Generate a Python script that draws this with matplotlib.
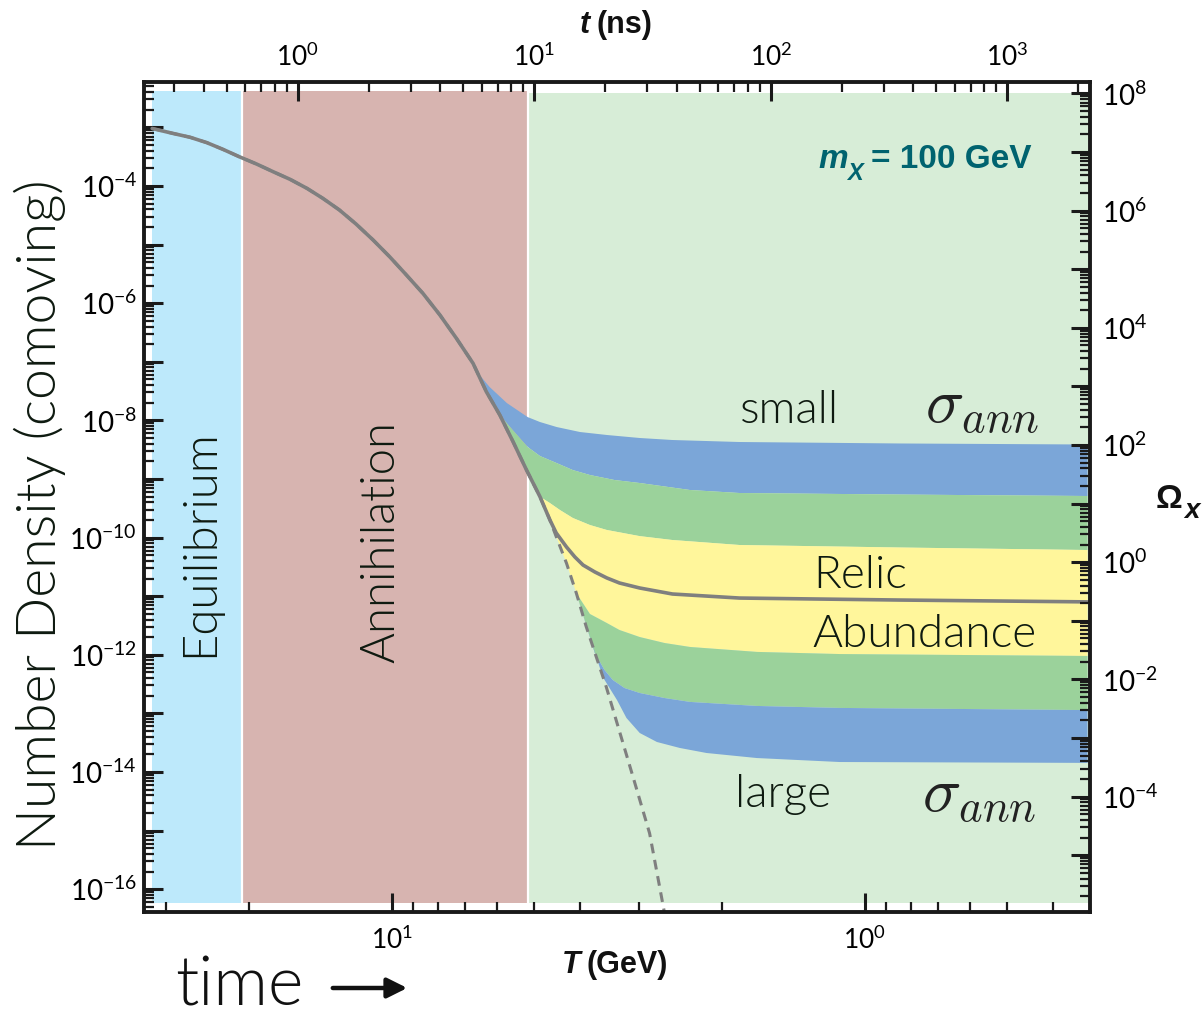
import numpy as np
import matplotlib
matplotlib.use("Agg")
import matplotlib.pyplot as plt
from matplotlib import ticker

W, H, DPI = 1202, 1016, 100

# ---------------- data ----------------
# equilibrium track: temperature (GeV) vs comoving number density
T_eq = [32.1, 29.0, 26.7, 24.6, 22.7, 21.0, 19.3, 17.8, 16.4, 15.1,
        14.0, 12.9, 11.9, 10.95, 10.1, 9.31, 8.59, 7.91, 7.30, 6.73,
        6.31, 5.91, 5.54, 5.19, 4.86, 4.63, 4.49, 4.27, 4.07, 3.88,
        3.52, 3.09, 2.85, 2.65]
n_eq = [9.6e-4, 7.9e-4, 6.8e-4, 5.5e-4, 4.2e-4, 3.16e-4, 2.37e-4, 1.75e-4, 1.30e-4, 9.1e-5,
        6.2e-5, 3.9e-5, 2.25e-5, 1.20e-5, 6.2e-6, 3.03e-6, 1.47e-6, 6.3e-7, 2.52e-7, 9.4e-8,
        3.09e-8, 1.24e-8, 4.33e-9, 1.43e-9, 4.99e-10, 2.0e-10, 1.04e-10, 3.64e-11, 1.12e-11, 3.02e-12,
        2.85e-13, 8.3e-15, 9.0e-16, 3.9e-17]

# freeze-out tail of the reference relic curve (leaves the track after T = 4.63)
relic_start = 25
T_relic_tail = [4.49, 4.27, 4.10, 3.94, 3.72, 3.51, 3.30, 2.99, 2.55, 1.84, 0.843, 0.338]
n_relic_tail = [1.20e-10, 6.9e-11, 4.67e-11, 3.4e-11, 2.59e-11, 2.05e-11, 1.68e-11,
                1.38e-11, 1.09e-11, 9.3e-12, 8.6e-12, 8.0e-12]

# band boundaries (from small to large annihilation cross section):
# index on the equilibrium track where each leaves it, then its own tail
B1_start = 19
B1_T = [6.52, 6.21, 5.71, 5.16, 4.86, 4.48, 4.00, 3.51, 2.99, 2.55, 1.84, 0.843, 0.338]
B1_n = [5.95e-8, 3.72e-8, 1.98e-8, 1.14e-8, 9.39e-9, 7.71e-9, 6.34e-9, 5.64e-9, 5.01e-9,
        4.63e-9, 4.28e-9, 4.04e-9, 3.88e-9]
B2_start = 21
B2_T = [5.55, 5.16, 4.86, 4.48, 4.14, 3.81, 3.38, 2.99, 2.34, 1.84, 0.843, 0.338]
B2_n = [6.85e-9, 3.52e-9, 2.47e-9, 1.87e-9, 1.42e-9, 1.17e-9, 9.61e-10, 8.55e-10,
        6.49e-10, 5.77e-10, 5.43e-10, 5.13e-10]
B3_start = 24
B3_T = [4.63, 4.41, 4.14, 3.81, 3.51, 2.99, 2.55, 1.84, 0.843, 0.338]
B3_n = [3.89e-10, 2.96e-10, 2.16e-10, 1.64e-10, 1.35e-10, 1.06e-10, 9.1e-11, 7.48e-11,
        6.78e-11, 6.14e-11]
B4_start = 28
B4_T = [3.81, 3.51, 3.30, 2.99, 2.65, 2.34, 1.69, 1.13, 0.338]
B4_n = [4.97e-12, 3.49e-12, 2.65e-12, 2.01e-12, 1.59e-12, 1.36e-12, 1.12e-12, 1.03e-12, 9.55e-13]
B5_start = 28
B5_T = [3.72, 3.55, 3.41, 3.22, 2.99, 2.65, 2.34, 1.69, 1.13, 0.338]
B5_n = [1.07e-12, 5.51e-13, 3.72e-13, 2.71e-13, 2.23e-13, 1.83e-13, 1.57e-13, 1.34e-13,
        1.24e-13, 1.14e-13]
B6_start = 28
B6_T = [3.58, 3.34, 3.19, 2.99, 2.75, 2.46, 2.16, 1.69, 1.13, 0.338]
B6_n = [4.18e-13, 1.69e-13, 8.36e-14, 4.63e-14, 3.25e-14, 2.57e-14, 2.11e-14, 1.73e-14,
        1.48e-14, 1.43e-14]

# epochs (temperature boundaries, GeV)
T_start, T_decouple, T_freeze, T_end = 32.1, 20.7, 5.16, 0.338

# axis ranges and conversions
T_lim = (33.4, 0.334)
n_lim = (4.08e-17, 5.96e-3)
omega_per_n = 2.63e10          # Omega_X = n * omega_per_n
T_ns = 15.8                    # t(ns) = (T_ns / T)^2

left_labels = [-4, -6, -8, -10, -12, -14, -16]
right_labels = [8, 6, 4, 2, 0, -2, -4]
bottom_labels = [1, 0]
top_labels = [0, 1, 2, 3]

# ---------------- style ----------------
C_BLUE_BG, C_BROWN_BG, C_GREEN_BG = "#BDE9FB", "#D7B4B0", "#D7EDD7"
C_BAND_BLUE, C_BAND_GREEN, C_BAND_YELLOW = "#7BA6D8", "#9BD29B", "#FFF69B"
C_CURVE = "#7F7F7F"
C_TEXT = "#0E1A10"
C_TEAL = "#00636F"
LIGHT = ["Lato", "DejaVu Sans"]
LW_LIGHT = 300
BOLD = ["Liberation Sans", "DejaVu Sans"]

plt.rcParams["font.family"] = ["Lato", "DejaVu Sans"]

fig = plt.figure(figsize=(W / DPI, H / DPI), dpi=DPI)
fig.patch.set_facecolor("white")


def fx(x, y):
    return x / W, 1 - y / H


ax = fig.add_axes([144 / W, 1 - 912 / H, (1090 - 144) / W, (912 - 82) / H])
ax.set_xscale("log")
ax.set_yscale("log")
ax.set_xlim(*T_lim)
ax.set_ylim(*n_lim)

# epoch backgrounds
ymin, ymax = 0.011, 0.989
ax.axvspan(T_start, T_decouple, ymin, ymax, color=C_BLUE_BG, lw=0, zorder=0)
ax.axvspan(T_decouple, T_freeze, ymin, ymax, color=C_BROWN_BG, lw=0, zorder=0)
ax.axvspan(T_freeze, T_end, ymin, ymax - 0.002, color=C_GREEN_BG, lw=0, zorder=0)
for Tb in (T_decouple, T_freeze):
    ax.axvline(Tb, ymin, ymax, color="white", lw=1.6, zorder=0.5)


def boundary(start, T_tail, n_tail):
    return np.array(T_eq[:start + 1] + T_tail), np.array(n_eq[:start + 1] + n_tail)


bounds = [boundary(B1_start, B1_T, B1_n), boundary(B2_start, B2_T, B2_n),
          boundary(B3_start, B3_T, B3_n), boundary(B4_start, B4_T, B4_n),
          boundary(B5_start, B5_T, B5_n), boundary(B6_start, B6_T, B6_n)]
band_colors = [C_BAND_BLUE, C_BAND_GREEN, C_BAND_YELLOW, C_BAND_GREEN, C_BAND_BLUE]
for (Tu, nu), (Tl, nl), c in zip(bounds[:-1], bounds[1:], band_colors):
    ax.fill(np.r_[Tu, Tl[::-1]], np.r_[nu, nl[::-1]], color=c, lw=0, zorder=1)

# equilibrium (dashed) and relic (solid) curves
ax.plot(T_eq, n_eq, color=C_CURVE, lw=2.2, ls=(0, (3.2, 2.2)), zorder=3)
ax.plot(T_eq[:relic_start + 1] + T_relic_tail, n_eq[:relic_start + 1] + n_relic_tail,
        color=C_CURVE, lw=2.6, solid_capstyle="round", solid_joinstyle="round", zorder=4)

# ---------------- axes & ticks ----------------
for s in ax.spines.values():
    s.set_linewidth(2.8)
    s.set_color("#1a1a1a")
    s.set_zorder(10)

TICK = dict(direction="in", color="#1a1a1a")


def log_fmt(labels):
    def f(v, pos):
        e = int(round(np.log10(v)))
        return r"$\mathdefault{10^{%d}}$" % e if e in labels else ""
    return ticker.FuncFormatter(f)


def setup_axis(axis, labels):
    axis.set_major_locator(ticker.LogLocator(base=10, subs=(1.0,), numticks=60))
    axis.set_minor_locator(ticker.LogLocator(base=10, subs=np.arange(2, 10), numticks=200))
    axis.set_major_formatter(log_fmt(labels))
    axis.set_minor_formatter(ticker.NullFormatter())


setup_axis(ax.yaxis, left_labels)
setup_axis(ax.xaxis, bottom_labels)
ax.tick_params(which="major", length=14, width=2.2, **TICK)
ax.tick_params(which="minor", length=7, width=1.6, **TICK)
ax.tick_params(axis="y", which="both", left=True, right=False, pad=5, labelsize=20)
ax.tick_params(axis="x", which="both", bottom=True, top=False, pad=10, labelsize=19)

axr = ax.twinx()
axr.set_yscale("log")
axr.set_ylim(n_lim[0] * omega_per_n, n_lim[1] * omega_per_n)
setup_axis(axr.yaxis, right_labels)
axr.tick_params(which="major", length=14, width=2.2, labelsize=20, pad=9, **TICK)
axr.tick_params(which="minor", length=7, width=1.6, **TICK)

axt = ax.twiny()
axt.set_xscale("log")
axt.set_xlim((T_ns / T_lim[0]) ** 2, (T_ns / T_lim[1]) ** 2)
setup_axis(axt.xaxis, top_labels)
axt.tick_params(which="major", length=14, width=2.2, labelsize=19, pad=8, **TICK)
axt.tick_params(which="minor", length=7, width=1.6, **TICK)
for a in (axr, axt):
    for s in a.spines.values():
        s.set_visible(False)

# ---------------- labels ----------------
fig.text(*fx(40, 515), "Number Density (comoving)", rotation=90, ha="center", va="center",
         fontsize=40, fontweight=LW_LIGHT, family=LIGHT, color=C_TEXT)
fig.text(*fx(200, 543), "Equilibrium", rotation=90, ha="center", va="center",
         fontsize=34, fontweight=LW_LIGHT, family=LIGHT, color=C_TEXT)
fig.text(*fx(381, 542), "Annihilation", rotation=90, ha="center", va="center",
         fontsize=34, fontweight=LW_LIGHT, family=LIGHT, color=C_TEXT)

for s, (x, y) in [("small", (740, 423)), ("large", (735, 807)),
                  ("Relic", (813, 588)), ("Abundance", (812, 647))]:
    fig.text(*fx(x, y), s, ha="left", va="baseline", fontsize=33, fontweight=LW_LIGHT,
             family=LIGHT, color=C_TEXT)
for x, y in [(925, 423), (922, 812)]:
    fig.text(*fx(x, y), r"$\sigma_{ann}$", ha="left", va="baseline", fontsize=46,
             math_fontfamily="cm", color="#222222")

fig.text(*fx(818, 168), "m", ha="left", va="baseline", fontsize=24, fontweight="bold",
         fontstyle="italic", family=BOLD, color=C_TEAL)
fig.text(*fx(847, 180), "X", ha="left", va="baseline", fontsize=17, fontweight="bold",
         fontstyle="italic", family=BOLD, color=C_TEAL)
fig.text(*fx(871, 168), "= 100 GeV", ha="left", va="baseline", fontsize=24,
         fontweight="bold", family=BOLD, color=C_TEAL)

fig.text(*fx(580, 33), "t", ha="left", va="baseline", fontsize=22, fontweight="bold",
         fontstyle="italic", family=BOLD, color="#111111")
fig.text(*fx(596, 33), "(ns)", ha="left", va="baseline", fontsize=22, fontweight="bold",
         family=BOLD, color="#111111")
fig.text(*fx(562, 973), "T", ha="left", va="baseline", fontsize=22, fontweight="bold",
         fontstyle="italic", family=BOLD, color="#111111")
fig.text(*fx(586, 973), "(GeV)", ha="left", va="baseline", fontsize=22, fontweight="bold",
         family=BOLD, color="#111111")
fig.text(*fx(1156, 508), "Ω", ha="left", va="baseline", fontsize=24, fontweight="bold",
         family=BOLD, color="#111111")
fig.text(*fx(1184, 518), "x", ha="left", va="baseline", fontsize=20, fontweight="bold",
         fontstyle="italic", family=BOLD, color="#111111")

fig.text(*fx(175, 1005), "time", ha="left", va="baseline", fontsize=49, fontweight=LW_LIGHT,
         family=LIGHT, color="#111111")
fig.add_artist(matplotlib.patches.FancyArrowPatch(
    fx(330, 988), fx(410, 988), transform=fig.transFigure, arrowstyle="-|>",
    mutation_scale=30, lw=3.2, color="#111111"))

fig.savefig("out.png", dpi=DPI)
